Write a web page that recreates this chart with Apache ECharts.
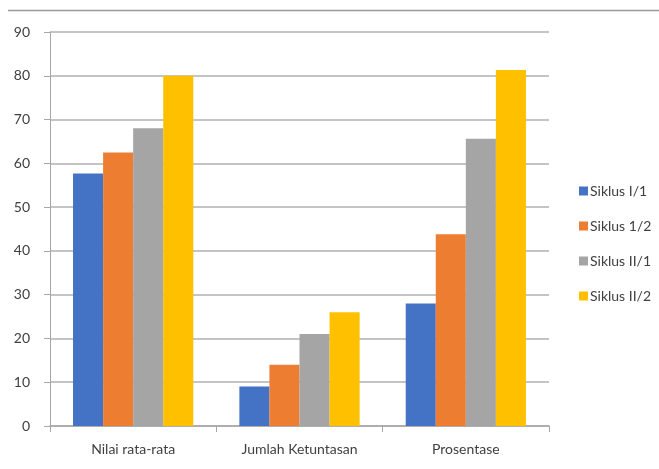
<!DOCTYPE html>
<html>
<head>
<meta charset="utf-8">
<script src="https://cdn.jsdelivr.net/npm/echarts@6/dist/echarts.min.js"></script>
<style>
html,body{margin:0;padding:0;background:#fff;}
#chart{width:659px;height:469px;}
</style>
</head>
<body>
<div id="chart"></div>
<script>
const categories = ['Nilai rata-rata', 'Jumlah Ketuntasan', 'Prosentase'];
const seriesNames = ['Siklus I/1', 'Siklus 1/2', 'Siklus II/1', 'Siklus II/2'];
const siklusI1 = [57.7, 9, 28];
const siklusI2 = [62.5, 14, 43.8];
const siklusII1 = [68, 21, 65.6];
const siklusII2 = [80, 26, 81.3];
const colors = ['#4472C4', '#ED7D31', '#A5A5A5', '#FFC000'];

const seriesData = [siklusI1, siklusI2, siklusII1, siklusII2];
const font = 'Lato, "Open Sans", sans-serif';

const chart = echarts.init(document.getElementById('chart'), null, {renderer: 'canvas'});
chart.setOption({
  animation: false,
  backgroundColor: '#ffffff',
  grid: {left: 50, right: 110, top: 32, bottom: 43},
  graphic: [{
    type: 'line',
    shape: {x1: 8, y1: 10.5, x2: 659, y2: 10.5},
    style: {stroke: '#9a9a9a', lineWidth: 1.5}
  }],
  legend: {
    orient: 'vertical',
    left: 574,
    top: 179,
    itemWidth: 9,
    itemHeight: 9,
    itemGap: 21,
    icon: 'rect',
    textStyle: {fontFamily: font, fontSize: 14, color: '#404040', padding: [0, 0, 0, -3]},
    data: seriesNames
  },
  xAxis: {
    type: 'category',
    data: categories,
    axisLine: {lineStyle: {color: '#a6a6a6', width: 1.5}},
    axisTick: {show: true, length: 6, lineStyle: {color: '#a6a6a6'}},
    axisLabel: {fontFamily: font, fontSize: 14, color: '#404040', margin: 16}
  },
  yAxis: {
    type: 'value',
    min: 0,
    max: 90,
    interval: 10,
    axisLine: {show: true, lineStyle: {color: '#a6a6a6', width: 1}},
    axisTick: {show: true, inside: false, length: 6, lineStyle: {color: '#a6a6a6'}},
    axisLabel: {fontFamily: font, fontSize: 14, color: '#404040', margin: 20},
    splitLine: {lineStyle: {color: '#b0b0b0', width: 1.5}}
  },
  series: seriesNames.map((name, i) => ({
    name: name,
    type: 'bar',
    data: seriesData[i],
    barGap: '0%',
    barCategoryGap: '27.7%',
    itemStyle: {color: colors[i]}
  }))
});
</script>
</body>
</html>
